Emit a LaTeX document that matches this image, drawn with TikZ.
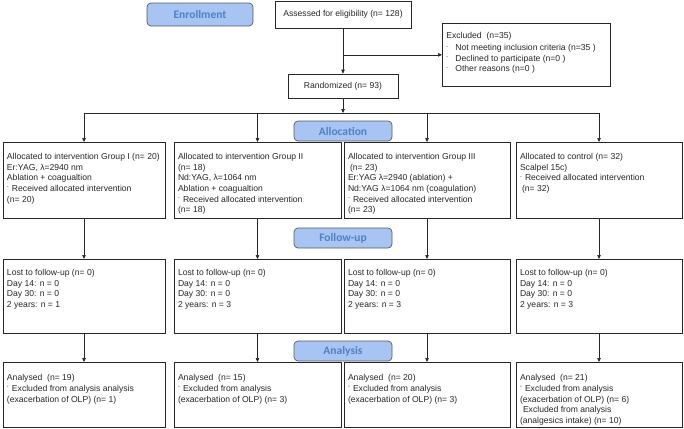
\documentclass[tikz,border=0pt]{standalone}
\usepackage{fontspec}
\setmainfont{Liberation Sans}
\newfontfamily\labelfont{Carlito}
\usetikzlibrary{arrows.meta}
\definecolor{stagefill}{HTML}{A8C4F2}
\definecolor{stagetext}{HTML}{4F81C4}
% small raised marks in front of the list lines
\newcommand{\mk}[1][5bp]{\makebox[#1][l]{\raisebox{0.55ex}{\scalebox{0.6}{-}}}}
\newcommand{\mkk}[1][5bp]{\makebox[#1][l]{\raisebox{0.45ex}{\scalebox{0.55}{"}}}}
% text of a box: width, height, height of first line, lines
\newcommand{\boxtxt}[4]{\parbox[c][#2][t]{#1}{\raggedright\rule{0pt}{#3}#4}}
\begin{document}
\begin{tikzpicture}[x=1bp, y=-1bp,
	ln/.style={line width=0.7bp, black!85},
	arr/.style={ln, -{Triangle[length=4bp,width=3.5bp]}},
	box/.style={draw=black!85, line width=0.7bp, inner xsep=4bp, inner ysep=0bp, text=black!85, font=\fontsize{8.6bp}{10.7bp}\selectfont},
	stage/.style={draw=black!65, line width=0.7bp, rounded corners=4bp, fill=stagefill, text=stagetext, font=\labelfont\bfseries\fontsize{11.5bp}{13bp}\selectfont, inner sep=0bp, minimum width=98bp, minimum height=20bp}]
	\useasboundingbox (0,0) rectangle (684,428);
	% enrollment
	\node[stage, minimum width=106bp, minimum height=23bp] (enrol) at (200,14.5) {Enrollment};
	\node[box, minimum width=136bp, minimum height=27bp] (assess) at (343,14.5) {Assessed for eligibility (n= 128)};
	\node[box, anchor=north west] (excl) at (442,23) {\boxtxt{160bp}{63bp}{15bp}{Excluded\ \ (n=35)\\[1.5bp]
		\mk[9bp]Not meeting inclusion criteria (n=35 )\\
		\mk[9bp]Declined to participate (n=0 )\\
		\mk[9bp]Other reasons (n=0 )}};
	\node[box, minimum width=110bp, minimum height=24bp] (rand) at (343,86) {Randomized (n= 93)};
	\draw[arr] (assess) -- (rand);
	\draw[arr] (assess.south |- excl.west) -- (excl.west);
	% allocation
	\coordinate (split) at (343,113);
	\node[stage] (alloc) at (343,131) {Allocation};
	\node[box, anchor=north] (g1) at (84,142) {\boxtxt{154bp}{76bp}{17bp}{Allocated to intervention Group I (n= 20)\\
		Er:YAG, λ=2940 nm\\
		Ablation + coagualtion\\
		\mk Received allocated intervention\\
		(n= 20)}};
	\node[box, anchor=north] (g2) at (257.5,142) {\boxtxt{159bp}{76bp}{17bp}{Allocated to intervention Group II\\
		(n= 18)\\
		Nd:YAG, λ=1064 nm\\
		Ablation + coagualtion\\
		\mk Received allocated intervention\\
		(n= 18)}};
	\node[box, anchor=north] (g3) at (427,142) {\boxtxt{158bp}{76bp}{17bp}{Allocated to intervention Group III\\
		\hspace*{2bp}(n= 23)\\
		Er:YAG λ=2940 (ablation) +\\
		Nd:YAG λ=1064 nm (coagulation)\\
		\mk Received allocated intervention\\
		(n= 23)}};
	\node[box, anchor=north] (g4) at (599,142) {\boxtxt{158bp}{76bp}{17bp}{Allocated to control (n= 32)\\
		Scalpel 15c)\\
		\mk Received allocated intervention\\
		\hspace*{2bp}(n= 32)}};
	\draw[arr] (rand) -- (split);
	\draw[ln] (split -| g1.north) -- (split -| g4.north);
	\foreach \n in {g1,g2,g3,g4}
		\draw[arr] (split -| \n.north) -- (\n.north);
	% follow-up
	\node[stage] (follow) at (343,238) {Follow-up};
	\node[box, anchor=north] (f1) at (84,259) {\boxtxt{154bp}{74bp}{16bp}{Lost to follow-up (n= 0)\\
		Day 14: n = 0\\ Day 30: n = 0\\ 2 years: n = 1}};
	\node[box, anchor=north] (f2) at (257.5,259) {\boxtxt{159bp}{74bp}{16bp}{Lost to follow-up (n= 0)\\
		Day 14: n = 0\\ Day 30: n = 0\\ 2 years: n = 3}};
	\node[box, anchor=north] (f3) at (427,259) {\boxtxt{158bp}{74bp}{16bp}{Lost to follow-up (n= 0)\\
		Day 14: n = 0\\ Day 30: n = 0\\ 2 years: n = 3}};
	\node[box, anchor=north] (f4) at (599,259) {\boxtxt{158bp}{74bp}{16bp}{Lost to follow-up (n= 0)\\
		Day 14: n = 0\\ Day 30: n = 0\\ 2 years: n = 3}};
	% analysis
	\node[stage] (analysis) at (343,351) {Analysis};
	\node[box, anchor=north] (a1) at (84,362) {\boxtxt{154bp}{65bp}{18.5bp}{Analysed\ \ (n= 19)\\
		\mkk Excluded from analysis analysis\\
		(exacerbation of OLP) (n= 1)}};
	\node[box, anchor=north] (a2) at (257.5,362) {\boxtxt{159bp}{65bp}{18.5bp}{Analysed\ \ (n= 15)\\
		\mkk Excluded from analysis\\
		(exacerbation of OLP) (n= 3)}};
	\node[box, anchor=north] (a3) at (427,362) {\boxtxt{158bp}{65bp}{18.5bp}{Analysed\ \ (n= 20)\\
		\mkk Excluded from analysis\\
		(exacerbation of OLP) (n= 3)}};
	\node[box, anchor=north] (a4) at (599,362) {\boxtxt{158bp}{65bp}{18.5bp}{Analysed\ \ (n= 21)\\
		\mkk Excluded from analysis\\
		(exacerbation of OLP) (n= 6)\\
		\hspace*{3bp}Excluded from analysis\\
		(analgesics intake) (n= 10)}};
	\foreach \n/\m in {g1/f1,g2/f2,g3/f3,g4/f4,f1/a1,f2/a2,f3/a3,f4/a4}
		\draw[arr] (\n) -- (\m);
\end{tikzpicture}
\end{document}
